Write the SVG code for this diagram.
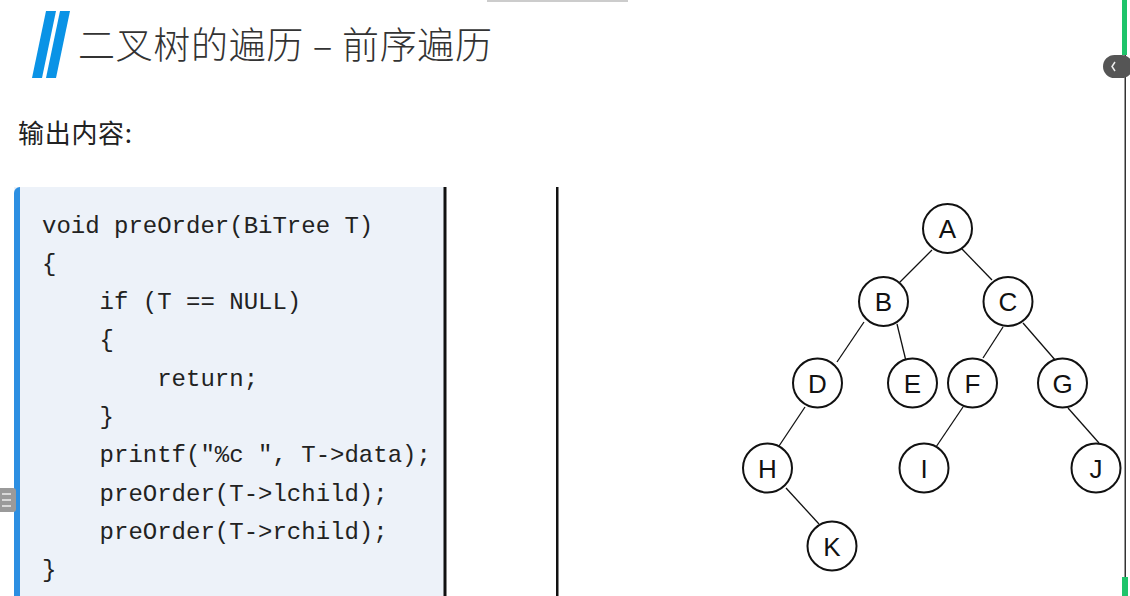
<svg xmlns="http://www.w3.org/2000/svg" width="1130" height="596" viewBox="0 0 1130 596">
<style>
.title{font-family:"Noto Sans CJK SC","Liberation Sans",sans-serif;font-size:37px;font-weight:300;fill:#333}
.sub{font-family:"Noto Sans CJK SC","Liberation Sans",sans-serif;font-size:26px;fill:#222}
.code{font-family:"Liberation Mono","Courier New",monospace;font-size:24px;fill:#222;white-space:pre}
.node circle{fill:#fff;stroke:#111;stroke-width:2}
.node text{font-family:"Liberation Sans",Arial,sans-serif;font-size:26px;fill:#111;text-anchor:middle;dominant-baseline:central}
.edges line{stroke:#111;stroke-width:1.3}
</style>
<rect width="1130" height="596" fill="#fff"/>
<rect x="487" y="0" width="141" height="2" fill="#ccc"/>
<!-- title -->
<polygon points="46,11 56,11 42,78 32,78" fill="#0a93e6"/>
<polygon points="60,11 70,11 56,78 46,78" fill="#0a93e6"/>
<text class="title" x="78" y="59" textLength="414" lengthAdjust="spacing">二叉树的遍历 – 前序遍历</text>
<text class="sub" x="18" y="143" textLength="114" lengthAdjust="spacing">输出内容:</text>
<!-- code box -->
<rect x="14" y="187" width="431" height="420" fill="#edf2f9"/>
<path d="M14,193 a6,6 0 0 1 6,-6 v420 h-6 z" fill="#2c8fe2"/>
<rect x="443.5" y="187" width="3" height="409" fill="#111"/>
<rect x="556" y="187" width="2.5" height="409" fill="#111"/>
<g id="code">
<text class="code" x="42" y="232.5" xml:space="preserve">void preOrder(BiTree T)</text>
<text class="code" x="42" y="270.8">{</text>
<text class="code" x="42" y="309.1" xml:space="preserve">    if (T == NULL)</text>
<text class="code" x="42" y="347.4" xml:space="preserve">    {</text>
<text class="code" x="42" y="385.7" xml:space="preserve">        return;</text>
<text class="code" x="42" y="424" xml:space="preserve">    }</text>
<text class="code" x="42" y="462.3" xml:space="preserve">    printf("%c ", T-&gt;data);</text>
<text class="code" x="42" y="500.6" xml:space="preserve">    preOrder(T-&gt;lchild);</text>
<text class="code" x="42" y="538.9" xml:space="preserve">    preOrder(T-&gt;rchild);</text>
<text class="code" x="42" y="577.2">}</text>
</g>
<!-- connectors -->
<g id="edges" class="edges">
<line x1="932" y1="250" x2="899" y2="283"/>
<line x1="962" y1="249" x2="992" y2="280"/>
<line x1="864" y1="322" x2="837" y2="362"/>
<line x1="897" y1="324" x2="906" y2="361"/>
<line x1="1003" y1="327" x2="983" y2="358"/>
<line x1="1023" y1="323" x2="1056" y2="361"/>
<line x1="805" y1="407" x2="779" y2="446"/>
<line x1="963" y1="407" x2="936" y2="447"/>
<line x1="1068" y1="408" x2="1099" y2="443"/>
<line x1="786" y1="488" x2="819" y2="524"/>
</g>
<!-- nodes -->
<g id="nA" class="node"><circle cx="947.5" cy="228.5" r="24.5"/><text x="947.5" y="229">A</text></g>
<g id="nB" class="node"><circle cx="883.5" cy="301.5" r="24.5"/><text x="883.5" y="302">B</text></g>
<g id="nC" class="node"><circle cx="1008" cy="301.5" r="24.5"/><text x="1008" y="302">C</text></g>
<g id="nD" class="node"><circle cx="817.5" cy="383" r="24.5"/><text x="817.5" y="383.5">D</text></g>
<g id="nE" class="node"><circle cx="912.5" cy="383" r="24.5"/><text x="912.5" y="383.5">E</text></g>
<g id="nF" class="node"><circle cx="972.5" cy="383" r="24.5"/><text x="972.5" y="383.5">F</text></g>
<g id="nG" class="node"><circle cx="1062.5" cy="383" r="24.5"/><text x="1062.5" y="383.5">G</text></g>
<g id="nH" class="node"><circle cx="767.5" cy="468" r="24.5"/><text x="767.5" y="468.5">H</text></g>
<g id="nI" class="node"><circle cx="924" cy="468" r="24.5"/><text x="924" y="468.5">I</text></g>
<g id="nJ" class="node"><circle cx="1096" cy="468" r="24.5"/><text x="1096" y="468.5">J</text></g>
<g id="nK" class="node"><circle cx="832" cy="546" r="24.5"/><text x="832" y="546.5">K</text></g>
<!-- window chrome -->
<rect x="1124.5" y="0" width="1.5" height="596" fill="#333"/>
<rect x="1122" y="0" width="5" height="55" fill="#1ec46a"/>
<rect x="1122" y="577" width="6" height="19" fill="#1ec46a"/>
<rect x="1103" y="55" width="30" height="23" rx="11.5" fill="#555"/>
<polyline points="1115,62 1112,66.5 1115,71" fill="none" stroke="#eee" stroke-width="1.5"/>
<rect x="-4" y="488" width="20" height="24" rx="3" fill="#9a9a9a"/>
<g stroke="#eee" stroke-width="1.5"><line x1="2" y1="494" x2="11" y2="494"/><line x1="2" y1="500" x2="11" y2="500"/><line x1="2" y1="506" x2="11" y2="506"/></g>
</svg>
